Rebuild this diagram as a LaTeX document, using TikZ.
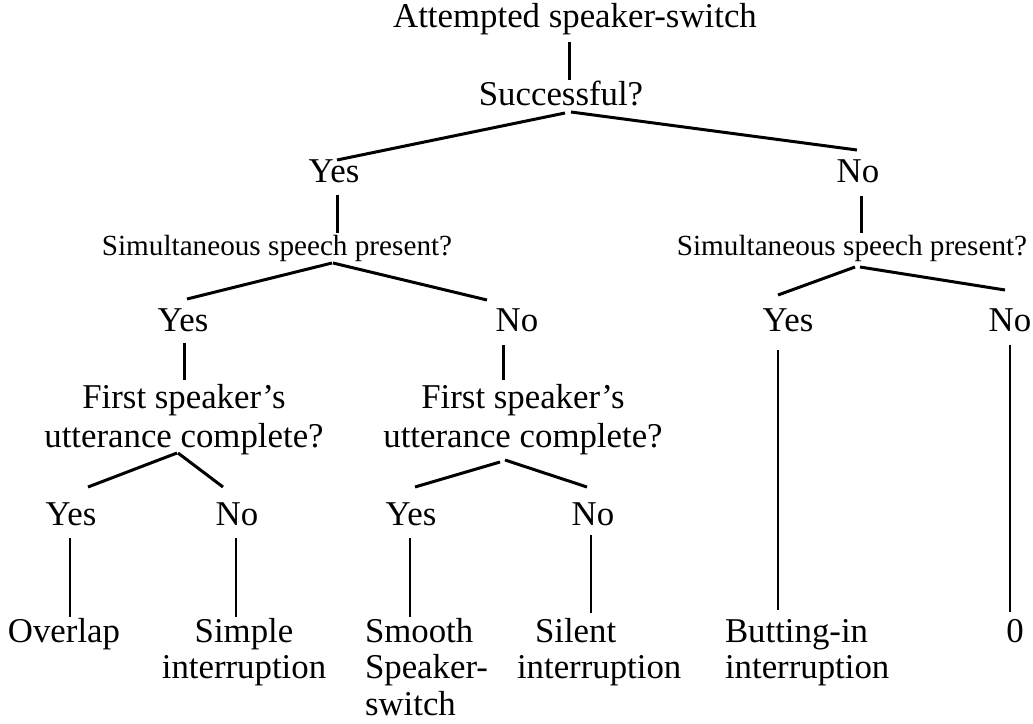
\documentclass[tikz,border=0pt]{standalone}
\usepackage{fontspec}
\setmainfont{Liberation Serif}
\begin{document}
\begin{tikzpicture}[x=0.5pt,y=-0.5pt]
\tikzset{
  lbl/.style={inner sep=0pt, outer sep=0pt, font=\fontsize{17.4}{19.5}\selectfont},
  leaf/.style={lbl, font=\fontsize{17.4}{18.3}\selectfont},
  lblsmall/.style={inner sep=0pt, outer sep=0pt, font=\fontsize{14.6}{16}\selectfont},
  branch/.style={line width=1.5pt},
  stem/.style={line width=1pt},
}
\useasboundingbox (0,0) rectangle (1033,723);

% questions and answers
\node[lbl, anchor=base] (att)  at (575,27)  {Attempted speaker-switch};
\node[lbl, anchor=base] (succ) at (561,105) {Successful?};
\node[lbl, anchor=base] (y1)   at (334,182) {Yes};
\node[lbl, anchor=base] (n1)   at (858,182) {No};
\node[lblsmall, anchor=base] (simL) at (277,255) {Simultaneous speech present?};
\node[lblsmall, anchor=base] (simR) at (852,255) {Simultaneous speech present?};
\node[lbl, anchor=base] (y2a) at (183,331)  {Yes};
\node[lbl, anchor=base] (n2a) at (517,331)  {No};
\node[lbl, anchor=base] (y2b) at (788,331)  {Yes};
\node[lbl, anchor=base] (n2b) at (1010,331) {No};
\node[lbl, anchor=base] (fsL) at (184,408)
  {\begin{tabular}[t]{@{}c@{}}First speaker’s\\utterance complete?\end{tabular}};
\node[lbl, anchor=base] (fsR) at (523,408)
  {\begin{tabular}[t]{@{}c@{}}First speaker’s\\utterance complete?\end{tabular}};
\node[lbl, anchor=base] (y3a) at (71,525)  {Yes};
\node[lbl, anchor=base] (n3a) at (237,525) {No};
\node[lbl, anchor=base] (y3b) at (411,525) {Yes};
\node[lbl, anchor=base] (n3b) at (593,525) {No};

% outcomes
\node[leaf, anchor=base] (overlap) at (64,642) {Overlap};
\node[leaf, anchor=base] (simple)  at (244,642)
  {\begin{tabular}[t]{@{}c@{}}Simple\\interruption\end{tabular}};
\node[leaf, anchor=base west] (smooth) at (365,642)
  {\begin{tabular}[t]{@{}l@{}}Smooth\\Speaker-\\switch\end{tabular}};
\node[leaf, anchor=base west] (silent) at (517,642)
  {\begin{tabular}[t]{@{}l@{}}\hspace*{9pt}Silent\\interruption\end{tabular}};
\node[leaf, anchor=base west] (butt) at (725,642)
  {\begin{tabular}[t]{@{}l@{}}Butting-in\\interruption\end{tabular}};
\node[leaf, anchor=base] (zero) at (1015,642) {0};

% upper connectors
\draw[branch] ([shift={(-6,15)}]att.base) -- ([shift={(8,-25)}]succ.base);
\draw[branch] ([shift={(4,8)}]succ.base) -- ([shift={(3,-22)}]y1.base);
\draw[branch] ([shift={(10,7)}]succ.base) -- ([shift={(-1,-32)}]n1.base);
\draw[branch] ([shift={(3,13)}]y1.base) -- ([shift={(60,-22)}]simL.base);
\draw[branch] ([shift={(3,14)}]n1.base) -- ([shift={(9,-22)}]simR.base);
\draw[branch] ([shift={(55,8)}]simL.base) -- ([shift={(4,-32)}]y2a.base);
\draw[branch] ([shift={(56,8)}]simL.base) -- ([shift={(-30,-31)}]n2a.base);
\draw[branch] ([shift={(3,12)}]simR.base) -- ([shift={(-10,-36)}]y2b.base);
\draw[branch] ([shift={(8,12)}]simR.base) -- ([shift={(-5,-41)}]n2b.base);
\draw[branch] ([shift={(1,12)}]y2a.base) -- ([shift={(0,-28)}]fsL.base);
\draw[branch] ([shift={(-14,14)}]n2a.base) -- ([shift={(-20,-28)}]fsR.base);
\draw[branch] ([shift={(-7,45)}]fsL.base) -- ([shift={(17,-38)}]y3a.base);
\draw[branch] ([shift={(-6,45)}]fsL.base) -- ([shift={(-14,-38)}]n3a.base);
\draw[branch] ([shift={(-23,54)}]fsR.base) -- ([shift={(4,-38)}]y3b.base);
\draw[branch] ([shift={(-18,52)}]fsR.base) -- ([shift={(-6,-38)}]n3b.base);

% stems down to the outcomes
\draw[stem] ([shift={(-10,19)}]y2b.base) -- ([shift={(53,-32)}]butt.base west);
\draw[stem] ([shift={(0,14)}]n2b.base) -- ([shift={(-5,-30)}]zero.base);
\draw[stem] ([shift={(-1,13)}]y3a.base) -- ([shift={(6,-25)}]overlap.base);
\draw[stem] ([shift={(-1,13)}]n3a.base) -- ([shift={(-8,-25)}]simple.base);
\draw[stem] ([shift={(-1,13)}]y3b.base) -- ([shift={(45,-25)}]smooth.base west);
\draw[stem] ([shift={(-2,10)}]n3b.base) -- ([shift={(74,-29)}]silent.base west);
\end{tikzpicture}
\end{document}
